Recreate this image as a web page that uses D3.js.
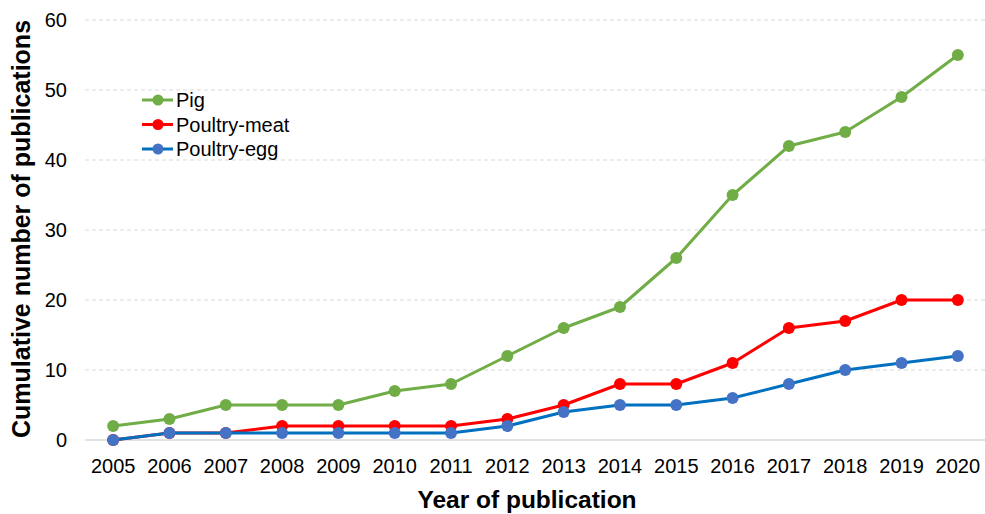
<!DOCTYPE html>
<html><head><meta charset="utf-8">
<script src="https://cdn.jsdelivr.net/npm/d3@7"></script>
<style>body{margin:0;background:#fff}svg{display:block;font-family:Arial,"Liberation Sans",sans-serif}</style>
</head><body>
<svg id="c" width="985" height="514"></svg>
<script>
const years = ["2005","2006","2007","2008","2009","2010","2011","2012","2013","2014","2015","2016","2017","2018","2019","2020"];
const pig = [2,3,5,5,5,7,8,12,16,19,26,35,42,44,49,55];
const poultryMeat = [0,1,1,2,2,2,2,3,5,8,8,11,16,17,20,20];
const poultryEgg = [0,1,1,1,1,1,1,2,4,5,5,6,8,10,11,12];
const yTicks = [0,10,20,30,40,50,60];
const series = [
  {name:"Pig", values:pig, line:"#70AD47", fill:"#70AD47"},
  {name:"Poultry-meat", values:poultryMeat, line:"#FF0000", fill:"#FF0000"},
  {name:"Poultry-egg", values:poultryEgg, line:"#0070C0", fill:"#4472C4"}
];
const FONT = "Arial, 'Liberation Sans', sans-serif";
const svg = d3.select("#c");
const x = d3.scaleBand().domain(years).range([85,986]);
const y = d3.scaleLinear().domain([0,60]).range([440,20]);
const cx = d => x(d) + x.bandwidth()/2;

// gridlines
svg.append("g").selectAll("line").data(yTicks.filter(t=>t>0)).join("line")
  .attr("x1",85).attr("x2",986).attr("y1",d=>y(d)).attr("y2",d=>y(d))
  .attr("stroke","#d9d9d9").attr("stroke-width",1).attr("stroke-dasharray","4,3");
svg.append("line").attr("x1",85).attr("x2",986).attr("y1",y(0)).attr("y2",y(0))
  .attr("stroke","#d9d9d9").attr("stroke-width",1.5);

// y axis
const ya = svg.append("g").attr("transform","translate(67,0)")
  .call(d3.axisLeft(y).tickValues(yTicks).tickSize(0).tickPadding(0));
ya.select(".domain").remove();
ya.selectAll("text").attr("font-size",20).attr("fill","#000").attr("font-family",FONT);

// x axis
const xa = svg.append("g").attr("transform","translate(0,455)")
  .call(d3.axisBottom(x).tickSize(0).tickPadding(4));
xa.select(".domain").remove();
xa.selectAll("text").attr("font-size",20).attr("fill","#000").attr("font-family",FONT);

// lines
const line = d3.line().x((d,i)=>cx(years[i])).y(d=>y(d));
series.forEach(s=>{
  const g = svg.append("g");
  g.append("path").datum(s.values).attr("d",line).attr("fill","none")
    .attr("stroke",s.line).attr("stroke-width",3).attr("stroke-linejoin","round");
  g.selectAll("circle").data(s.values).join("circle")
    .attr("cx",(d,i)=>cx(years[i])).attr("cy",d=>y(d)).attr("r",6).attr("fill",s.fill);
});

// legend
const lg = svg.append("g");
series.forEach((s,i)=>{
  const yy = 100 + i*24.5;
  lg.append("line").attr("x1",142).attr("x2",173).attr("y1",yy).attr("y2",yy).attr("stroke",s.line).attr("stroke-width",3);
  lg.append("circle").attr("cx",158).attr("cy",yy).attr("r",5.5).attr("fill",s.fill);
  lg.append("text").attr("x",176).attr("y",yy).attr("dy","0.36em").attr("font-size",20).text(s.name);
});

// titles
svg.append("text").attr("x",527).attr("y",508).attr("text-anchor","middle")
  .attr("font-size",24.5).attr("font-weight","bold").text("Year of publication");
svg.append("text").attr("transform","translate(30,229) rotate(-90)").attr("text-anchor","middle")
  .attr("font-size",25).attr("font-weight","bold").text("Cumulative number of publications");
</script>
</body></html>
